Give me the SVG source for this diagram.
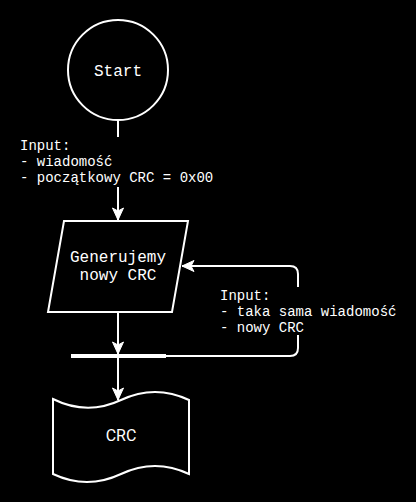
<svg xmlns="http://www.w3.org/2000/svg" width="416" height="502" viewBox="0 0 416 502">
<style>
.shape{fill:#000;stroke:#fff;stroke-width:2}
.edge{fill:none;stroke:#fff;stroke-width:2}
.mono{font-family:"Liberation Mono","DejaVu Sans Mono",monospace;fill:#fff}
.node{font-size:16px;text-anchor:middle}
.lbl{font-size:14px}
.sans{font-family:Roboto,"Liberation Sans",sans-serif;font-size:16px;fill:#fff;text-anchor:middle}
</style>
<defs>
<marker id="arr" markerUnits="userSpaceOnUse" markerWidth="14" markerHeight="14" viewBox="-13 -7 14 14" refX="0" refY="0" orient="auto">
<path d="M0,0 L-12,-5.5 L-9,0 L-12,5.5 Z" fill="#fff" stroke="#fff" stroke-width="1"/>
</marker>
</defs>
<rect width="416" height="502" fill="#000"/>
<g id="connectors">
<path class="edge" d="M118,120 V137 M118,187 V220" marker-end="url(#arr)"/>
<path class="edge" d="M118,312 V354" marker-end="url(#arr)"/>
<path class="edge" d="M118,357 V400" marker-end="url(#arr)"/>
<path class="edge" d="M166,356 H290 Q298,356 298,348 V335 M298,287 V274 Q298,266 290,266 H182" marker-end="url(#arr)"/>
<text class="mono lbl" x="20" y="150">Input:</text>
<text class="mono lbl" x="20" y="166">- wiadomość</text>
<text class="mono lbl" x="20" y="182">- początkowy CRC = 0x00</text>
<text class="mono lbl" x="220" y="300">Input:</text>
<text class="mono lbl" x="220" y="316">- taka sama wiadomość</text>
<text class="mono lbl" x="220" y="332">- nowy CRC</text>
</g>
<g id="start">
<circle class="shape" cx="118" cy="70" r="50"/>
<text class="mono node" x="118" y="76">Start</text>
</g>
<g id="generate">
<path class="shape" d="M64,221 H188 L172,312 H48 Z"/>
<text class="mono node" x="118" y="262">Generujemy</text>
<text class="mono node" x="118" y="280">nowy CRC</text>
</g>
<g id="bar">
<rect x="71" y="354" width="95" height="4" fill="#fff"/>
</g>
<g id="crc">
<path class="shape" d="M53,399 Q87,416 121,400 Q155,384 189,400 V474 Q155,458 121,474 Q87,490 53,474 Z"/>
<text class="sans" x="121" y="441">CRC</text>
</g>
</svg>
